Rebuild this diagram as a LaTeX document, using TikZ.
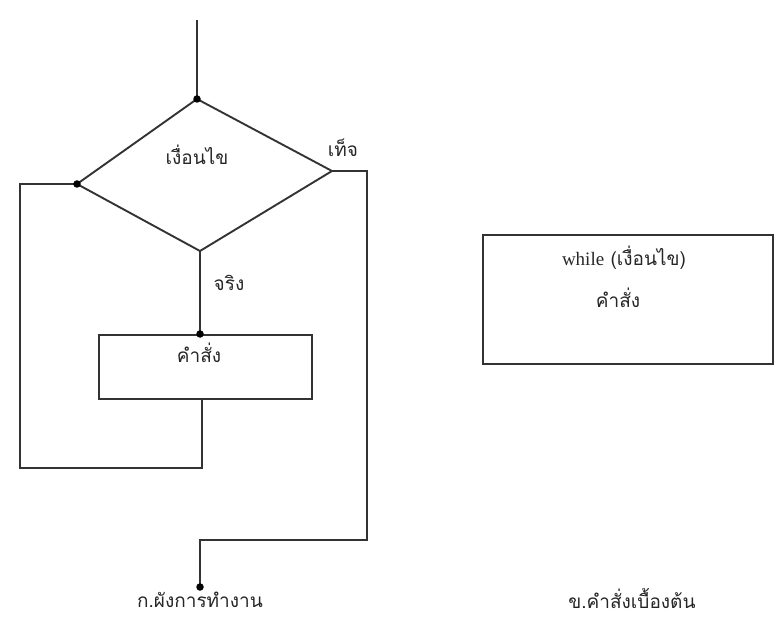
\documentclass[tikz,border=0pt]{standalone}
\usepackage{fontspec}
\newfontfamily\thaifont[Script=Thai]{Loma}
\setmainfont{Liberation Serif}
\tikzset{
  line/.style={draw=black!80, line width=1.9pt},
  dotmark/.style={circle, fill=black, inner sep=0pt, minimum size=7.5pt},
  lbl/.style={font=\thaifont\fontsize{19}{22}\selectfont, text=black!85, inner sep=1pt},
  boxnode/.style={draw=black!80, line width=1.9pt, rectangle, inner sep=0pt}
}
\begin{document}
\begin{tikzpicture}[x=1pt,y=-1pt]
\useasboundingbox (0,0) rectangle (778,617);
% diamond vertices
\coordinate (start) at (197,20);
\coordinate (dtop) at (197,99);
\coordinate (dleft) at (77,184);
\coordinate (dright) at (332,171);
\coordinate (dbot) at (200,251);
\draw[line] (dtop) -- (dright) -- (dbot) -- (dleft) -- cycle;
\draw[line] (start) -- (dtop);
% body box
\node[boxnode, minimum width=213pt, minimum height=64pt] (body) at (205.5,367) {};
\node[lbl] (bodytxt) at (199,353) {คำสั่ง};
\draw[line] (dbot) -- (body.north -| dbot);
% loop back
\coordinate (lb1) at (202,399);
\coordinate (lb2) at (20,468);
\draw[line] (lb1) -- (lb1 |- lb2) -- (lb2) -- (lb2 |- dleft) -- (dleft);
% false exit
\coordinate (fx) at (367,540);
\coordinate (endpt) at (200,587);
\draw[line] (dright) -- (fx |- dright) -- (fx) -- (endpt |- fx) -- (endpt);
% dots
\node[dotmark] (d1) at (dtop) {};
\node[dotmark] (d2) at (dleft) {};
\node[dotmark] (d3) at (200,334) {};
\node[dotmark] (d4) at (endpt) {};
% labels
\node[lbl] (cond) at (197,155) {เงื่อนไข};
\node[lbl] (false) at (343,148) {เท็จ};
\node[lbl] (true) at (229,283) {จริง};
\node[lbl] (capA) at (200,600) {ก.ผังการทำงาน};
% right box
\node[boxnode, minimum width=290pt, minimum height=129pt] (wbox) at (628,299.5) {};
\node[lbl] (wtxt) at (624,258) {{\rmfamily while} (เงื่อนไข)};
\node[lbl] (wstmt) at (618,298) {คำสั่ง};
\node[lbl] (capB) at (632,598) {ข.คำสั่งเบื้องต้น};
\end{tikzpicture}
\end{document}
